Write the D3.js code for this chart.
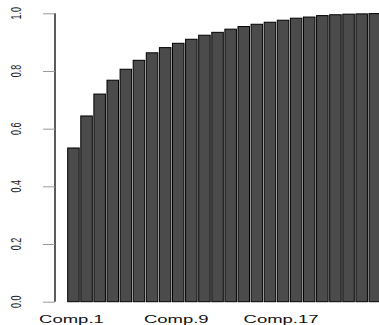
<!DOCTYPE html>
<html>
<head>
<meta charset="utf-8">
<script src="https://cdn.jsdelivr.net/npm/d3@7"></script>
<style>
  body { margin: 0; background: #fff; }
  svg { display: block; }
</style>
</head>
<body>
<div id="chart"></div>
<script>
var svgWidth = 379;
var svgHeight = 325;

// Cumulative proportion of variance per component
var components = d3.range(1, 25).map(function(i) { return "Comp." + i; });
var cumVariance = [0.533, 0.644, 0.720, 0.768, 0.806, 0.837, 0.863, 0.881,
  0.896, 0.910, 0.924, 0.934, 0.945, 0.954, 0.962, 0.969,
  0.976, 0.983, 0.987, 0.992, 0.995, 0.997, 0.998, 0.999];
var xTickLabels = ["Comp.1", "Comp.9", "Comp.17"];
var yTickValues = [0, 0.2, 0.4, 0.6, 0.8, 1.0];

var data = components.map(function(c, i) {
  return { comp: c, value: cumVariance[i] };
});

var svg = d3.select("#chart")
  .append("svg")
  .attr("width", svgWidth)
  .attr("height", svgHeight);

// Scales
var xBandScale = d3.scaleBand()
  .domain(components)
  .range([66.9, 66.9 + 24 * 13.1])
  .paddingInner(0.12)
  .paddingOuter(0.06);

var yLinearScale = d3.scaleLinear()
  .domain([0, 1])
  .range([301.7, 13.3]);

// Y axis (labels drawn separately, stretched like the original)
var leftAxis = d3.axisLeft(yLinearScale)
  .tickValues(yTickValues)
  .tickSize(12)
  .tickFormat("");

var yAxis = svg.append("g")
  .attr("transform", "translate(55, 0)")
  .call(leftAxis);

yAxis.select(".domain")
  .attr("d", "M0," + yLinearScale(0) + "V" + yLinearScale(1))
  .attr("stroke", "#333")
  .attr("stroke-width", 1.6);

yAxis.selectAll(".tick line")
  .attr("stroke", "#9a9a9a");

svg.selectAll(".ylabel")
  .data(yTickValues)
  .enter()
  .append("text")
  .attr("class", "ylabel")
  .attr("transform", function(d) {
    return "translate(21," + yLinearScale(d) + ") scale(1.7,1) rotate(-90)";
  })
  .attr("text-anchor", "middle")
  .attr("font-family", "Liberation Sans, Arial, sans-serif")
  .attr("font-size", "9px")
  .attr("fill", "#222")
  .text(function(d) { return d3.format(".1f")(d); });

// Bars
svg.selectAll("rect.bar")
  .data(data)
  .enter()
  .append("rect")
  .attr("class", "bar")
  .attr("x", function(d) { return xBandScale(d.comp); })
  .attr("width", xBandScale.bandwidth())
  .attr("y", function(d) { return yLinearScale(d.value); })
  .attr("height", function(d) { return yLinearScale(0) - yLinearScale(d.value); })
  .attr("fill", "#4b4b4b")
  .attr("stroke", "#000")
  .attr("stroke-width", 1);

// X labels
svg.selectAll(".xlabel")
  .data(xTickLabels)
  .enter()
  .append("text")
  .attr("class", "xlabel")
  .attr("transform", function(d) {
    var cx = xBandScale(d) + xBandScale.bandwidth() / 2 - 2;
    return "translate(" + cx + ",323) scale(1.85,1)";
  })
  .attr("text-anchor", "middle")
  .attr("font-family", "Liberation Sans, Arial, sans-serif")
  .attr("font-size", "10px")
  .attr("fill", "#111")
  .text(function(d) { return d; });
</script>
</body>
</html>
